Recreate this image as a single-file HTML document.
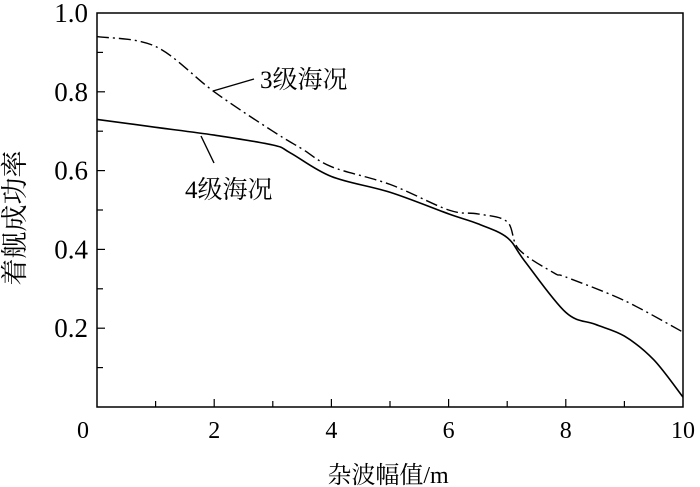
<!DOCTYPE html>
<html><head><meta charset="utf-8"><style>body{margin:0;background:#fff}svg{display:block}text{font-family:"Liberation Serif","Noto Serif CJK SC",serif;fill:#000}</style></head>
<body>
<svg id="chart" width="700" height="487" viewBox="0 0 700 487" xmlns="http://www.w3.org/2000/svg">
<g id="g"></g>
</svg>
<script>
const xTicks=[0,2,4,6,8,10];
const yTicks=[0.2,0.4,0.6,0.8,1.0];
const yTickLabels=["0.2","0.4","0.6","0.8","1.0"];
const s3x=[0,1,2,3,3.5,4,5,6,6.5,7,7.2,7.8,8,9,10];
const s3y=[0.94,0.915,0.80,0.70,0.655,0.61,0.565,0.50,0.49,0.47,0.40,0.34,0.33,0.27,0.19];
const s4x=[0,1,2,3,3.3,4,5,6,6.5,7,7.3,8,8.5,9,9.5,10];
const s4y=[0.73,0.71,0.69,0.665,0.645,0.585,0.545,0.49,0.465,0.43,0.37,0.24,0.21,0.18,0.12,0.025];
const L=97,R=683,T=13,B=407;
const X=v=>L+(R-L)*v/10;
const Y=v=>B-(B-T)*v/1.0;
const g=document.getElementById('g');
const NS='http://www.w3.org/2000/svg';
function mk(t,a){const e=document.createElementNS(NS,t);for(const k in a)e.setAttribute(k,a[k]);g.appendChild(e);return e;}
let e=mk('rect',{x:L,y:T,width:R-L,height:B-T,fill:'none',stroke:'#000','stroke-width':1.5});


for(let i=1;i<10;i++){const len=i%2?6:8;
 e=mk('line',{x1:X(i),x2:X(i),y1:B,y2:B-len,stroke:'#000','stroke-width':1.2});
 
 }
for(let i=1;i<10;i++){const len=i%2?6:8;
 e=mk('line',{x1:L,x2:L+len,y1:Y(i/10),y2:Y(i/10),stroke:'#000','stroke-width':1.2});
 
 }
xTicks.forEach(v=>{e=mk('text',{x:v===0?83:X(v),y:B+31,'font-size':24,'text-anchor':'middle'});e.textContent=String(v);
 
 });
yTicks.forEach((v,i)=>{e=mk('text',{x:88,y:Y(v)+9,'font-size':27,'text-anchor':'end'});e.textContent=yTickLabels[i];
 
 });
function path(xs,ys){const p=xs.map((x,i)=>[X(x),Y(ys[i])]);let d='M'+p[0][0].toFixed(1)+','+p[0][1].toFixed(1);
 for(let i=0;i<p.length-1;i++){const p0=p[Math.max(0,i-1)],p1=p[i],p2=p[i+1],p3=p[Math.min(p.length-1,i+2)];
  const c1=[p1[0]+(p2[0]-p0[0])/6,p1[1]+(p2[1]-p0[1])/6],c2=[p2[0]-(p3[0]-p1[0])/6,p2[1]-(p3[1]-p1[1])/6];
  d+='C'+c1.map(n=>n.toFixed(1)).join(',')+' '+c2.map(n=>n.toFixed(1)).join(',')+' '+p2.map(n=>n.toFixed(1)).join(',');}
 return d;}
e=mk('path',{d:path(s3x,s3y),fill:'none',stroke:'#000','stroke-width':1.4,'stroke-dasharray':'12,4,2,4','stroke-linejoin':'round'});


e=mk('path',{d:path(s4x,s4y),fill:'none',stroke:'#000','stroke-width':1.6,'stroke-linejoin':'round'});


e=mk('line',{x1:213,y1:91,x2:254,y2:79,stroke:'#000','stroke-width':1.4});


e=mk('text',{x:260,y:88,'font-size':25});e.textContent='3级海况';


e=mk('line',{x1:201,y1:136,x2:214,y2:163,stroke:'#000','stroke-width':1.4});


e=mk('text',{x:185,y:198,'font-size':25});e.textContent='4级海况';


e=mk('text',{x:388,y:483,'font-size':24,'text-anchor':'middle'});e.textContent='杂波幅值/m';


e=mk('text',{x:0,y:0,'font-size':27,'text-anchor':'middle',transform:'translate(24,218) rotate(-90)'});e.textContent='着舰成功率';


</script>
</body></html>
